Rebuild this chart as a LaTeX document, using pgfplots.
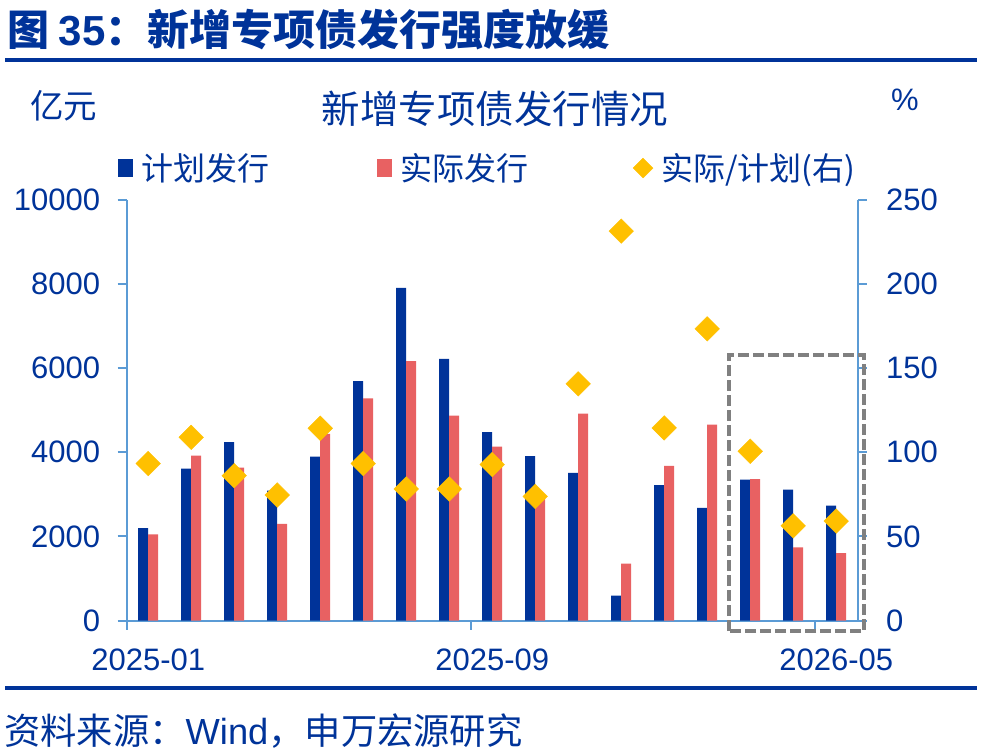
\documentclass[border=0pt]{standalone}
\usepackage{pgfplots}
\pgfplotsset{compat=1.18}
\usepackage{fontspec}
\setmainfont{Liberation Sans}
\newfontfamily\cjk{Noto Sans CJK SC}
\definecolor{navy}{HTML}{003399}
\definecolor{barblue}{HTML}{003399}
\definecolor{barred}{HTML}{E86162}
\definecolor{gold}{HTML}{FFC000}
\definecolor{axblue}{HTML}{5B9BD5}
\definecolor{boxgray}{HTML}{808080}

\begin{document}
\begin{tikzpicture}[x=1bp,y=1bp]
\path[use as bounding box] (0,0) rectangle (982,-752);
\node[anchor=west, inner sep=0, text=navy] at (7,-30) {\cjk\bfseries\fontsize{42bp}{42bp}\selectfont 图 {\rmfamily 35}：新增专项债发行强度放缓};
\fill[navy] (5,-58) rectangle (977,-62.5);
\fill[navy] (5,-685.5) rectangle (977,-690);
\node[anchor=west, inner sep=0, text=navy] at (4,-731) {\fontsize{36.3bp}{36bp}\selectfont{\cjk 资料来源：}Wind{\cjk ，申万宏源研究}};
\node[anchor=west, inner sep=0, text=navy] at (30,-106) {\cjk\fontsize{33.5bp}{33bp}\selectfont 亿元};
\node[anchor=west, inner sep=0, text=navy] at (891,-100) {\fontsize{31bp}{31bp}\selectfont \%};
\node[inner sep=0, text=navy] at (495,-109) {\cjk\fontsize{38.5bp}{38bp}\selectfont 新增专项债发行情况};

\begin{axis}[
  at={(126.7bp,-620.5bp)}, anchor=south west, scale only axis,
  width=731bp, height=420.5bp,
  xmin=-0.5, xmax=16.5, ymin=0, ymax=10000,
  ybar=0pt, bar width=10bp,
  axis x line*=bottom, axis y line*=left,
  axis line style={draw=axblue, line width=2bp},
  tick align=outside, major tick length=9bp,
  major tick style={draw=axblue, line width=2bp},
  xtick={-0.5,7.5,15.5}, xticklabels={2025-01,2025-09,2026-05},
  xticklabel style={xshift=21.5bp, yshift=-16bp},
  ytick={0,2000,...,10000}, scaled y ticks=false,
  yticklabel style={xshift=-14bp},
  /pgf/number format/assume math mode=true, /pgf/number format/1000 sep={},
  ticklabel style={font=\fontsize{31bp}{31bp}\selectfont, text=navy},
  legend columns=3,
  legend style={at={(-0.0119,1.076)}, anchor=west, draw=none, fill=none,
    inner sep=0pt, nodes={inner sep=0pt},
    font=\cjk\fontsize{32bp}{32bp}\selectfont, text=navy,
    /tikz/every odd column/.append style={column sep=8bp}},
  clip=false,
]
\addplot[fill=barblue, draw=none,
  legend image code/.code={\fill[barblue] (0bp,-9bp) rectangle (15bp,9bp);}]
  coordinates {(0,2200) (1,3610) (2,4240) (3,3090) (4,3900) (5,5690) (6,7910) (7,6220) (8,4480) (9,3910) (10,3510) (11,590) (12,3220) (13,2680) (14,3350) (15,3110) (16,2730)};
\addlegendentry{\makebox[236bp][l]{计划发行}}
\addplot[fill=barred, draw=none,
  legend image code/.code={\fill[barred] (0bp,-9bp) rectangle (15bp,9bp);}]
  coordinates {(0,2050) (1,3920) (2,3635) (3,2300) (4,4440) (5,5280) (6,6170) (7,4870) (8,4135) (9,2890) (10,4920) (11,1350) (12,3680) (13,4660) (14,3365) (15,1740) (16,1600)};
\addlegendentry{\makebox[233bp][l]{实际发行}}
\addlegendimage{legend image code/.code={\draw[only marks, mark=square*, mark size=7bp, mark options={rotate=45, fill=gold, draw=gold}] plot coordinates {(10bp,0bp)};}}
\addlegendentry{实际/计划(右)}
\end{axis}

\begin{axis}[
  at={(126.7bp,-620.5bp)}, anchor=south west, scale only axis,
  width=731bp, height=420.5bp,
  xmin=-0.5, xmax=16.5, ymin=0, ymax=250,
  axis y line*=right, axis x line=none,
  axis line style={draw=axblue, line width=2bp},
  tick align=outside, major tick length=9bp,
  major tick style={draw=axblue, line width=2bp},
  ytick={0,50,...,250},
  yticklabel style={xshift=16bp},
  /pgf/number format/assume math mode=true,
  ticklabel style={font=\fontsize{31bp}{31bp}\selectfont, text=navy},
  clip=false,
]
\addplot[only marks, mark=square*, mark size=8.7bp, mark options={rotate=45, fill=gold, draw=gold}]
  coordinates {(0,93.3) (1,108.9) (2,86.1) (3,74.6) (4,114.3) (5,93.3) (6,78.2) (7,78.2) (8,92.7) (9,73.8) (10,140.7) (11,231.5) (12,114.5) (13,173.4) (14,100.6) (15,56.3) (16,59.1)};
\draw[boxgray, line width=3.4bp, dash pattern=on 11bp off 4bp] (axis cs:13.51,-6.3) rectangle (axis cs:16.65,157.8);
\end{axis}
\end{tikzpicture}
\end{document}
